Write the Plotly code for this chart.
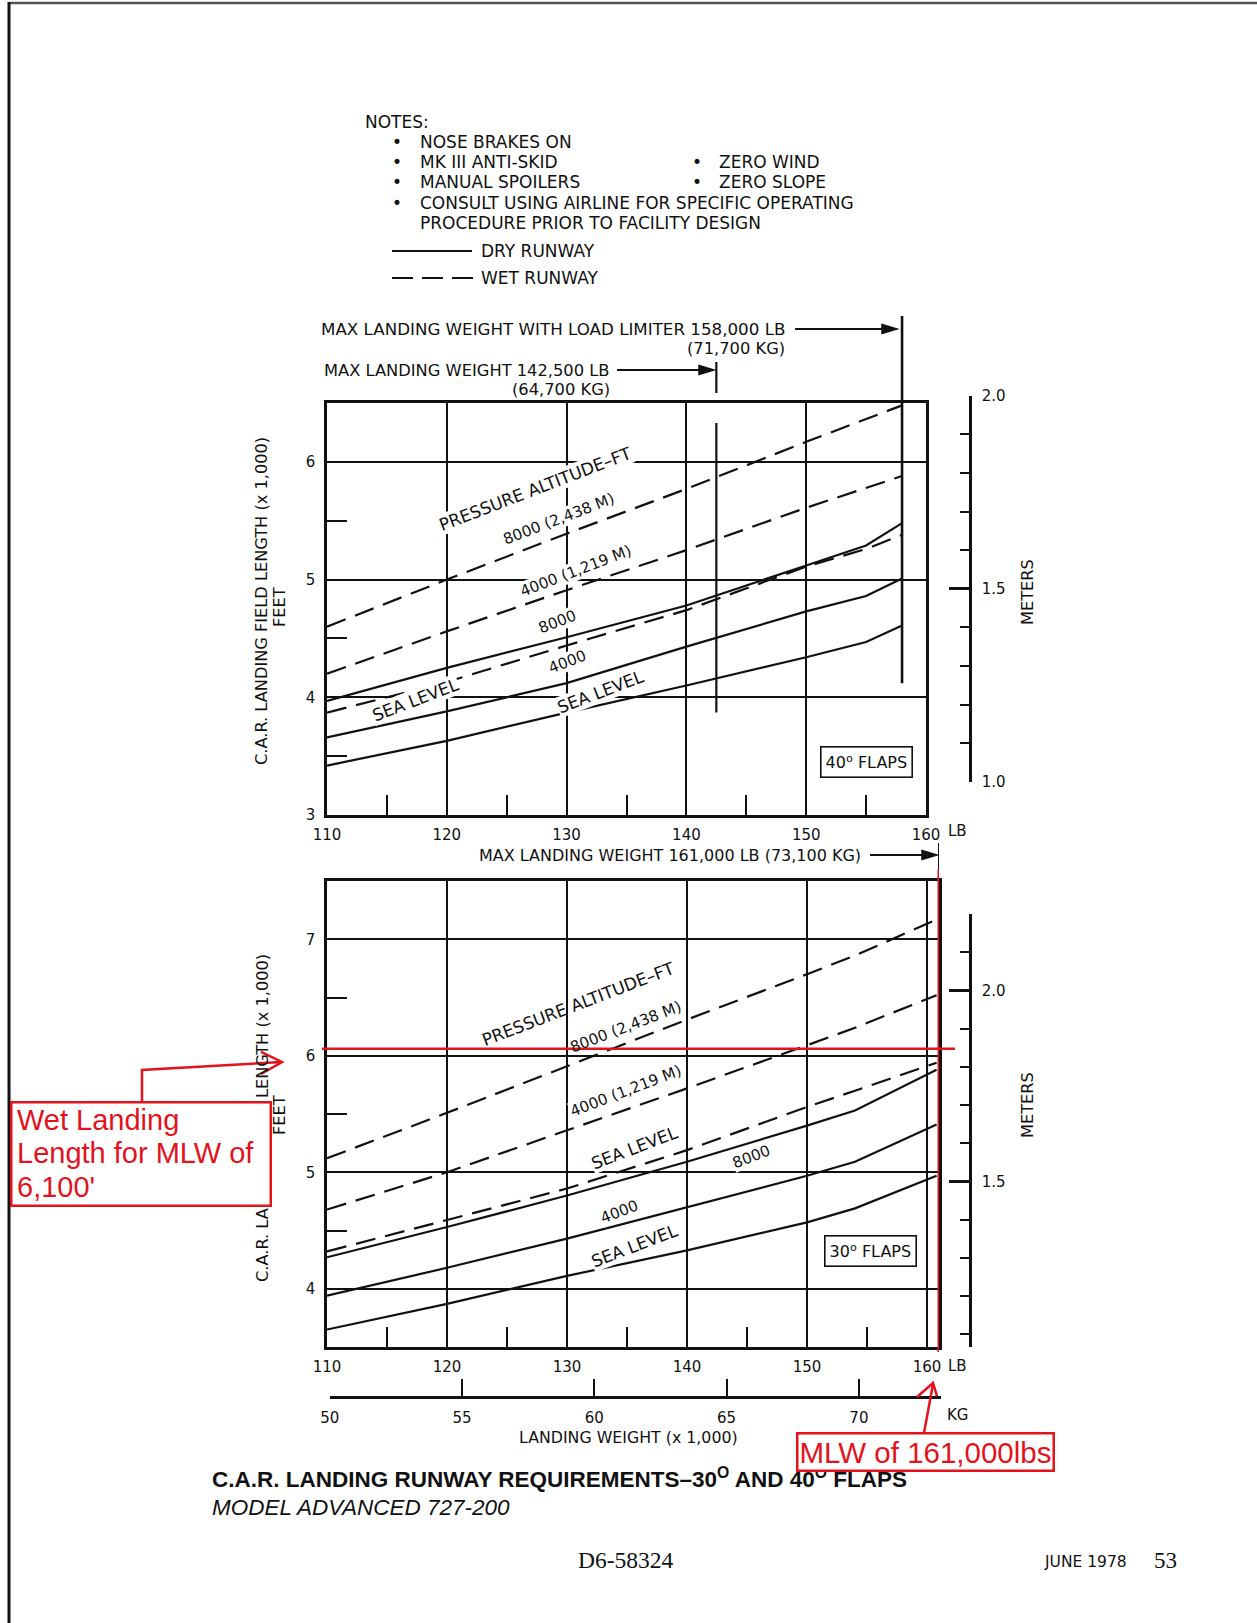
import plotly.graph_objects as go

W, H = 1257, 1623
def px(x): return x / W
def py(y): return 1 - y / H

LB_PER_KG = 2.20462
FT_PER_M = 3.28084
FONT = "DejaVu Sans"
INK = "#111111"
RED = "#e3131d"

# ---------------- data (landing field length, x1000 ft) ----------------
weight_40 = [110, 120, 130, 140, 150, 155, 158]
wet_8000_40 = [4.60, 5.00, 5.39, 5.77, 6.17, 6.36, 6.48]
wet_4000_40 = [4.20, 4.56, 4.91, 5.25, 5.61, 5.78, 5.88]
wet_sl_40 = [3.87, 4.13, 4.44, 4.74, 5.11, 5.26, 5.38]
dry_8000_40 = [3.97, 4.25, 4.51, 4.78, 5.12, 5.29, 5.48]
dry_4000_40 = [3.66, 3.88, 4.12, 4.43, 4.73, 4.86, 5.01]
dry_sl_40 = [3.42, 3.63, 3.87, 4.10, 4.34, 4.47, 4.61]

weight_30 = [110, 120, 130, 140, 150, 154, 160.8]
wet_8000_30 = [5.12, 5.51, 5.91, 6.31, 6.70, 6.86, 7.17]
wet_4000_30 = [4.68, 5.00, 5.36, 5.72, 6.09, 6.24, 6.52]
wet_sl_30 = [4.32, 4.59, 4.86, 5.19, 5.56, 5.70, 5.94]
dry_8000_30 = [4.27, 4.53, 4.80, 5.09, 5.40, 5.53, 5.88]
dry_4000_30 = [3.94, 4.18, 4.43, 4.70, 4.97, 5.09, 5.41]
dry_sl_30 = [3.65, 3.87, 4.11, 4.33, 4.57, 4.69, 4.97]

lb_ticks = [110, 120, 130, 140, 150, 160]
lb_minor = [115, 125, 135, 145, 155]
kg_ticks = [50, 55, 60, 65, 70]
ft_ticks_40 = [3, 4, 5, 6]
ft_minor_40 = [3.5, 4.5, 5.5]
ft_ticks_30 = [4, 5, 6, 7]
ft_minor_30 = [4.5, 5.5, 6.5]
m_ticks_40 = [1.0, 1.5, 2.0]
m_minor_40 = [1.1, 1.2, 1.3, 1.4, 1.6, 1.7, 1.8, 1.9]
m_ticks_30 = [1.5, 2.0, 2.2]
m_ticktext_30 = ["1.5", "2.0", ""]
m_minor_30 = [1.1, 1.2, 1.3, 1.4, 1.6, 1.7, 1.8, 1.9, 2.1]

MLW_40 = 142.5
MLW_LIMITER_40 = 158
MLW_30 = 161
WET_LEN_MARK = 6.06

# ---------------- axis geometry ----------------
X1_RANGE = [110, 160]; X1_DOM = [px(327), px(926)]
Y1_RANGE = [3, 6.5]; Y1_DOM = [py(815), py(403)]
X2_RANGE = [110, 161]; X2_DOM = [px(327), px(939)]
Y2_RANGE = [3.5, 7.5]; Y2_DOM = [py(1347), py(881)]

def lin(v, rng, dom):
    return dom[0] + (v - rng[0]) / (rng[1] - rng[0]) * (dom[1] - dom[0])

# meters axis (km) tied to feet axis through unit conversion
M1_RANGE = [1.0, 2.0]
M1_DOM = [lin(M1_RANGE[0] * FT_PER_M, Y1_RANGE, Y1_DOM), lin(M1_RANGE[1] * FT_PER_M, Y1_RANGE, Y1_DOM)]
M2_RANGE = [Y2_RANGE[0] / FT_PER_M, 2.2]
M2_DOM = [Y2_DOM[0], lin(M2_RANGE[1] * FT_PER_M, Y2_RANGE, Y2_DOM)]
# kg axis tied to lb axis
KG_RANGE = [50, 73.1]
KG_DOM = [lin(KG_RANGE[0] * LB_PER_KG, X2_RANGE, X2_DOM), lin(KG_RANGE[1] * LB_PER_KG, X2_RANGE, X2_DOM)]

fig = go.Figure()

WET_DASH = "20px,10px"

def add_curve(x, y, xa, ya, dashed):
    fig.add_trace(go.Scatter(
        x=x, y=y, xaxis=xa, yaxis=ya, mode="lines",
        line=dict(color=INK, width=2.2, dash=WET_DASH if dashed else "solid"),
        hoverinfo="skip", showlegend=False))

for ys, d in [(wet_8000_40, True), (wet_4000_40, True), (wet_sl_40, True),
              (dry_8000_40, False), (dry_4000_40, False), (dry_sl_40, False)]:
    add_curve(weight_40, ys, "x", "y", d)
for ys, d in [(wet_8000_30, True), (wet_4000_30, True), (wet_sl_30, True),
              (dry_8000_30, False), (dry_4000_30, False), (dry_sl_30, False)]:
    add_curve(weight_30, ys, "x2", "y2", d)

# dummy traces to realise the auxiliary axes
def dummy(xa, ya, xv, yv):
    fig.add_trace(go.Scatter(x=[xv], y=[yv], xaxis=xa, yaxis=ya, mode="markers",
                             marker=dict(size=1, opacity=0), hoverinfo="skip", showlegend=False))
dummy("x4", "y3", 0, 1.5)
dummy("x4", "y4", 0, 1.5)
dummy("x3", "y5", 60, 0)

tickfont = dict(family=FONT, size=15, color=INK)

def lb_axis(rng, dom, anchor):
    return dict(range=rng, domain=dom, anchor=anchor, tickvals=lb_ticks, automargin=False,
                ticks="", showgrid=True, gridcolor=INK, gridwidth=1.8,
                showline=True, mirror=True, linecolor=INK, linewidth=2.6,
                zeroline=False, tickfont=tickfont, ticklabelstandoff=4,
                minor=dict(tickvals=lb_minor, ticks="inside", ticklen=20, tickwidth=2,
                           tickcolor=INK, showgrid=False))

def ft_axis(rng, dom, anchor, tv, mv):
    return dict(range=rng, domain=dom, anchor=anchor, tickvals=tv, automargin=False,
                ticks="", showgrid=True, gridcolor=INK, gridwidth=1.8,
                showline=True, mirror=True, linecolor=INK, linewidth=2.6,
                zeroline=False, tickfont=tickfont, ticklabelstandoff=6,
                minor=dict(tickvals=mv, ticks="inside", ticklen=20, tickwidth=2,
                           tickcolor=INK, showgrid=False))

def m_axis(rng, dom, tv, tt, mv):
    return dict(range=rng, domain=dom, anchor="free", position=px(970), side="right",
                automargin=False,
                tickvals=tv, ticktext=tt, ticks="inside", ticklen=20, tickwidth=2.5,
                tickcolor=INK, showgrid=False, showline=True, linecolor=INK, linewidth=2.6,
                zeroline=False, tickfont=tickfont, ticklabelstandoff=7,
                minor=dict(tickvals=mv, ticks="inside", ticklen=9, tickwidth=2, tickcolor=INK))

fig.update_layout(
    template="none",
    width=W, height=H, autosize=False,
    margin=dict(l=0, r=0, t=0, b=0, pad=0, autoexpand=False),
    paper_bgcolor="white", plot_bgcolor="rgba(0,0,0,0)", showlegend=False,
    xaxis=lb_axis(X1_RANGE, X1_DOM, "y"),
    yaxis=ft_axis(Y1_RANGE, Y1_DOM, "x", ft_ticks_40, ft_minor_40),
    xaxis2=lb_axis(X2_RANGE, X2_DOM, "y2"),
    yaxis2=ft_axis(Y2_RANGE, Y2_DOM, "x2", ft_ticks_30, ft_minor_30),
    yaxis3=m_axis(M1_RANGE, M1_DOM, m_ticks_40, [f"{v:.1f}" for v in m_ticks_40], m_minor_40),
    yaxis4=m_axis(M2_RANGE, M2_DOM, m_ticks_30, m_ticktext_30, m_minor_30),
    xaxis4=dict(visible=False, domain=[px(1100), px(1110)], anchor="y3", range=[-1, 1],
                automargin=False),
    xaxis3=dict(range=KG_RANGE, domain=KG_DOM, anchor="free", position=py(1397), side="bottom",
                automargin=False,
                tickvals=kg_ticks, ticks="inside", ticklen=17, tickwidth=2, tickcolor=INK,
                showgrid=False, showline=True, linecolor=INK, linewidth=2.6, zeroline=False,
                tickfont=tickfont, ticklabelstandoff=6),
    yaxis5=dict(visible=False, domain=[py(1400), py(1396)], anchor="x3", range=[-1, 1],
                automargin=False),
)

shapes = []
def pline(x0, y0, x1, y1, color=INK, width=2, dash=None):
    d = dict(type="line", xref="paper", yref="paper", x0=px(x0), y0=py(y0), x1=px(x1), y1=py(y1),
             line=dict(color=color, width=width))
    if dash:
        d["line"]["dash"] = dash
    shapes.append(d)

def ppath(points, color=INK, fill=True, width=1.5):
    p = "M " + " L ".join(f"{px(a):.5f},{py(b):.5f}" for a, b in points)
    if fill:
        p += " Z"
    shapes.append(dict(type="path", xref="paper", yref="paper", path=p,
                       fillcolor=color if fill else "rgba(0,0,0,0)",
                       line=dict(color=color, width=width)))

# page frame
pline(9, 3, 1257, 3, color="#555555", width=2.5)
pline(9, 2, 9, 1623, width=3)

# legend lines in notes
pline(392, 251, 472, 251, width=2)
pline(392, 278, 474, 278, width=2, dash="21px,9px")

# max landing weight markers (top chart)
pline(795, 329, 885, 329, width=2)
ppath([(882, 324.5), (897, 329), (882, 333.5)])
shapes.append(dict(type="line", xref="x", yref="paper", x0=MLW_LIMITER_40, x1=MLW_LIMITER_40,
                   y0=py(316), y1=Y1_DOM[1], line=dict(color=INK, width=2.6)))
shapes.append(dict(type="line", xref="x", yref="y", x0=MLW_LIMITER_40, x1=MLW_LIMITER_40,
                   y0=4.12, y1=Y1_RANGE[1], line=dict(color=INK, width=2.6)))
pline(617, 370, 702, 370, width=2)
ppath([(699, 365.5), (714, 370), (699, 374.5)])
shapes.append(dict(type="line", xref="x", yref="paper", x0=MLW_40, x1=MLW_40,
                   y0=py(362), y1=py(393), line=dict(color=INK, width=2.2)))
shapes.append(dict(type="line", xref="x", yref="y", x0=MLW_40, x1=MLW_40,
                   y0=3.87, y1=6.33, line=dict(color=INK, width=2.2)))

# max landing weight marker (bottom chart)
pline(870, 855, 925, 855, width=2)
ppath([(922, 850.5), (937, 855), (922, 859.5)])
shapes.append(dict(type="line", xref="x2", yref="paper", x0=MLW_30, x1=MLW_30,
                   y0=py(843), y1=Y2_DOM[1], line=dict(color=INK, width=2)))

# red markup
shapes.append(dict(type="line", xref="paper", yref="y2", x0=px(322), x1=px(955),
                   y0=WET_LEN_MARK, y1=WET_LEN_MARK, line=dict(color=RED, width=2.5)))
shapes.append(dict(type="line", xref="x2", yref="paper", x0=MLW_30, x1=MLW_30,
                   y0=py(870), y1=py(1352), line=dict(color=RED, width=3)))
ppath([(142, 1101), (142, 1070), (281, 1062)], color=RED, fill=False, width=2.5)
ppath([(261, 1052), (282, 1062), (261, 1074)], color=RED, fill=False, width=2.5)
ppath([(924, 1433), (933, 1384)], color=RED, fill=False, width=2.5)
ppath([(917, 1397), (933, 1383), (937, 1396)], color=RED, fill=False, width=2.5)

fig.update_layout(shapes=shapes)

ann = []
def text(x, y, s, size=15, xanchor="center", yanchor="middle", angle=0, color=INK,
         family=FONT, **kw):
    d = dict(x=px(x), y=py(y), xref="paper", yref="paper", text=s, showarrow=False,
             xanchor=xanchor, yanchor=yanchor, textangle=angle,
             font=dict(family=family, size=size, color=color))
    d.update(kw)
    ann.append(d)

# notes
NS = 17
text(363, 122, "NOTES:", NS, xanchor="left")
for yy, s in [(142, "NOSE BRAKES ON"), (162, "MK III ANTI-SKID"), (182, "MANUAL SPOILERS"),
              (203, "CONSULT USING AIRLINE FOR SPECIFIC OPERATING")]:
    text(397, yy, "•", NS, xanchor="center")
    text(418, yy, s, NS, xanchor="left")
text(418, 223, "PROCEDURE PRIOR TO FACILITY DESIGN", NS, xanchor="left")
for yy, s in [(162, "ZERO WIND"), (182, "ZERO SLOPE")]:
    text(697, yy, "•", NS, xanchor="center")
    text(717, yy, s, NS, xanchor="left")
text(479, 251, "DRY RUNWAY", NS, xanchor="left")
text(479, 278, "WET RUNWAY", NS, xanchor="left")

# max weight captions
text(787, 329, "MAX LANDING WEIGHT WITH LOAD LIMITER 158,000 LB", 16.7, xanchor="right")
text(787, 348, "(71,700 KG)", 16.3, xanchor="right")
text(612, 370, "MAX LANDING WEIGHT 142,500 LB", 16.3, xanchor="right")
text(612, 389, "(64,700 KG)", 16.3, xanchor="right")
text(863, 855, "MAX LANDING WEIGHT 161,000 LB (73,100 KG)", 16, xanchor="right")

# axis titles
TS = 16.2
text(262, 601, "C.A.R. LANDING FIELD LENGTH (x 1,000)", TS, angle=-90)
text(279, 607, "FEET", TS, angle=-90)
text(262, 1118, "C.A.R. LANDING FIELD LENGTH (x 1,000)", TS, angle=-90)
text(279, 1115, "FEET", TS, angle=-90)
text(1027, 592, "METERS", TS, angle=-90)
text(1027, 1105, "METERS", TS, angle=-90)
text(957, 831, "LB", 15)
text(957, 1366, "LB", 15)
text(957, 1415, "KG", 15)
text(629, 1437, "LANDING WEIGHT (x 1,000)", 15.8)

# curve labels (white backing interrupts the grid as in the original)
A = -21
LS = 15.3
PS = 17
def clabel(x, y, s, size, backed=True):
    if backed:
        text(x, y, s, size, angle=A, bgcolor="white", borderpad=0)
    else:
        text(x, y, s, size, angle=A)

clabel(535, 489, "PRESSURE ALTITUDE–FT", PS)
clabel(559, 519, "8000 (2,438 M)", LS)
clabel(576, 571, "4000 (1,219 M)", LS)
clabel(557, 622, "8000", LS)
clabel(567, 662, "4000", LS)
clabel(415, 700, "SEA LEVEL", PS)
clabel(600, 692, "SEA LEVEL", PS)
clabel(578, 1004, "PRESSURE ALTITUDE–FT", PS, backed=False)
clabel(626, 1027, "8000 (2,438 M)", LS, backed=False)
clabel(626, 1091, "4000 (1,219 M)", LS)
clabel(634, 1148, "SEA LEVEL", PS)
clabel(751, 1157, "8000", LS)
clabel(619, 1212, "4000", LS)
clabel(634, 1246, "SEA LEVEL", PS)

# flap boxes
text(866, 762, "40<sup>o</sup> FLAPS", 16, bordercolor=INK, borderwidth=1.6, borderpad=4,
     bgcolor="white")
text(870, 1251, "30<sup>o</sup> FLAPS", 16, bordercolor=INK, borderwidth=1.6, borderpad=4,
     bgcolor="white")

# title block
text(210, 1478, "<b>C.A.R. LANDING RUNWAY REQUIREMENTS–30<sup>O</sup> AND 40<sup>O</sup> FLAPS</b>",
     22.5, xanchor="left", family="Liberation Sans")
text(210, 1507, "<i>MODEL ADVANCED 727-200</i>", 22.5, xanchor="left", family="Liberation Sans")
text(626, 1560, "D6-58324", 23.5, family="Liberation Serif")
text(1085, 1562, "JUNE 1978", 15.5)
text(1165, 1560, "53", 23, family="Liberation Serif")

# red call-out boxes (on top)
ann.append(dict(x=px(10), y=py(1101), xref="paper", yref="paper", xanchor="left", yanchor="top",
                text=" ", showarrow=False, width=257, height=101, bgcolor="white",
                bordercolor=RED, borderwidth=2.5, borderpad=0))
text(15, 1120, "Wet Landing", 29, xanchor="left", color=RED, family="Liberation Sans")
text(15, 1153, "Length for MLW of", 29, xanchor="left", color=RED, family="Liberation Sans")
text(15, 1187, "6,100'", 29, xanchor="left", color=RED, family="Liberation Sans")
text(925, 1452, "MLW of 161,000lbs", 29.5, color=RED, bgcolor="white", bordercolor=RED,
     borderwidth=2.5, borderpad=1, family="Liberation Sans")

fig.update_layout(annotations=ann)
fig.write_html(
    "out.html",
    config={"displayModeBar": False, "responsive": False},
    post_script=("document.body.style.margin='0px';document.body.style.padding='0px';"
                 "document.documentElement.style.overflow='hidden';"
                 "document.body.style.overflow='hidden';"))
